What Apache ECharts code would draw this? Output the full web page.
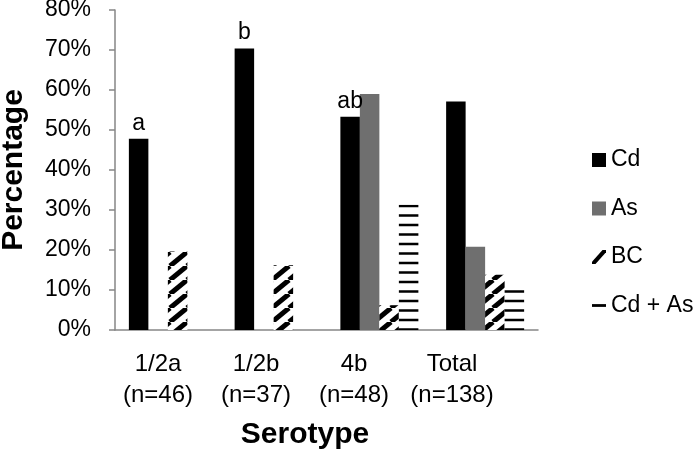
<!DOCTYPE html>
<html>
<head>
<meta charset="utf-8">
<script src="https://cdn.jsdelivr.net/npm/echarts@6/dist/echarts.min.js"></script>
<style>
  html, body { margin: 0; padding: 0; background: #fff; }
  #chart { width: 700px; height: 454px; }
</style>
</head>
<body>
<div id="chart"></div>
<script>

// data
var serotypes = ['1/2a', '1/2b', '4b', 'Total'];
var sampleSizes = [46, 37, 48, 138];
var cdValues = [47.8, 70.4, 53.3, 57.1];
var asValues = [0, 0, 59.0, 20.8];
var bcValues = [19.6, 16.2, 6.2, 13.8];
var cdAsValues = [0, 0, 31.3, 10.1];
var sigLetters = ['a', 'b', 'ab', ''];
var yTicks = [0, 10, 20, 30, 40, 50, 60, 70, 80];

var FONT = '"Liberation Sans", Arial, sans-serif';
var AXIS_GRAY = '#868686';

var categories = serotypes.map(function (s, i) {
    return s + '\n(n=' + sampleSizes[i] + ')';
});

// diagonal hatch for BC
function DiagonalPattern() {
    var c = document.createElement('canvas');
    c.width = 17;
    c.height = 14;
    var ctx = c.getContext('2d');
    ctx.fillStyle = '#fff';
    ctx.fillRect(0, 0, 17, 14);
    ctx.strokeStyle = '#000';
    ctx.lineWidth = 5;
    [-1, 0, 1].forEach(function (k) {
        ctx.beginPath();
        ctx.moveTo(k * 17, 14);
        ctx.lineTo(k * 17 + 17, 0);
        ctx.stroke();
    });
    return c;
}

// horizontal lines for Cd + As
function LinePattern() {
    var c = document.createElement('canvas');
    c.width = 4;
    c.height = 19;
    var ctx = c.getContext('2d');
    ctx.fillStyle = '#fff';
    ctx.fillRect(0, 0, 4, 19);
    ctx.fillStyle = '#000';
    ctx.fillRect(0, 5.25, 4, 2.5);
    ctx.fillRect(0, 14.75, 4, 2.5);
    return c;
}

var chart = echarts.init(document.getElementById('chart'));

var option = {
    animation: false,
    textStyle: { fontFamily: FONT },
    grid: [
        { left: 115, right: 162, top: 10, bottom: 124, outerBoundsMode: 'none' },
        // label axis: the category text in the source sits on a tighter spacing
        { left: 109, width: 392, top: 10, bottom: 124, outerBoundsMode: 'none' }
    ],
    legend: {
        orient: 'vertical',
        left: 587,
        top: 142,
        itemWidth: 14,
        itemHeight: 14,
        itemGap: 22.5,
        textStyle: { fontSize: 23, color: '#000', lineHeight: 26, fontFamily: FONT },
        data: [
            { name: 'Cd', icon: 'rect' },
            { name: 'As', icon: 'rect' },
            { name: 'BC', icon: 'path://M0,12 L3,12 L12,2 L12,0 L9,0 L0,10 Z', itemStyle: { color: '#000' } },
            { name: 'Cd + As', icon: 'path://M0,0 H10 V2 H0 Z', itemStyle: { color: '#000' } }
        ]
    },
    xAxis: [{
        type: 'category',
        gridIndex: 0,
        data: categories,
        axisLine: { lineStyle: { color: AXIS_GRAY, width: 1.5 } },
        axisTick: { show: false },
        axisLabel: { show: false }
    }, {
        type: 'category',
        gridIndex: 1,
        data: categories,
        axisLine: { show: false },
        axisTick: { show: false },
        axisLabel: { interval: 0, fontSize: 24, color: '#000', lineHeight: 31, margin: 19, fontFamily: FONT },
        name: 'Serotype',
        nameLocation: 'middle',
        nameGap: 90,
        nameTextStyle: { fontSize: 30, fontWeight: 'bold', color: '#000', fontFamily: FONT }
    }],
    yAxis: [{
        type: 'value',
        gridIndex: 0,
        min: yTicks[0],
        max: yTicks[yTicks.length - 1],
        interval: 10,
        axisLine: { show: true, lineStyle: { color: AXIS_GRAY, width: 1.5 } },
        axisTick: { show: true, length: 6, lineStyle: { color: AXIS_GRAY, width: 1.5 } },
        splitLine: { show: false },
        axisLabel: { formatter: '{value}%', fontSize: 23, color: '#000', margin: 24, fontFamily: FONT },
        name: 'Percentage',
        nameLocation: 'middle',
        nameGap: 86,
        nameTextStyle: { fontSize: 30, fontWeight: 'bold', color: '#000', fontFamily: FONT }
    }, {
        type: 'value',
        gridIndex: 1,
        min: 0,
        max: 80,
        show: false
    }],
    series: [{
        name: 'Cd',
        type: 'bar',
        barWidth: 19.5,
        barGap: '0%',
        itemStyle: { color: '#000' },
        label: {
            show: true,
            position: 'top',
            distance: 4,
            fontSize: 23,
            color: '#000',
            fontFamily: FONT,
            formatter: function (p) { return sigLetters[p.dataIndex]; }
        },
        data: cdValues
    }, {
        name: 'As',
        type: 'bar',
        barWidth: 19.5,
        barGap: '0%',
        itemStyle: { color: '#6f6f6f' },
        data: asValues
    }, {
        name: 'BC',
        type: 'bar',
        barWidth: 19.5,
        barGap: '0%',
        itemStyle: { color: { image: DiagonalPattern(), repeat: 'repeat' } },
        data: bcValues
    }, {
        name: 'Cd + As',
        type: 'bar',
        barWidth: 19.5,
        barGap: '0%',
        itemStyle: { color: { image: LinePattern(), repeat: 'repeat' } },
        data: cdAsValues
    }]
};

chart.setOption(option);

</script>
</body>
</html>
